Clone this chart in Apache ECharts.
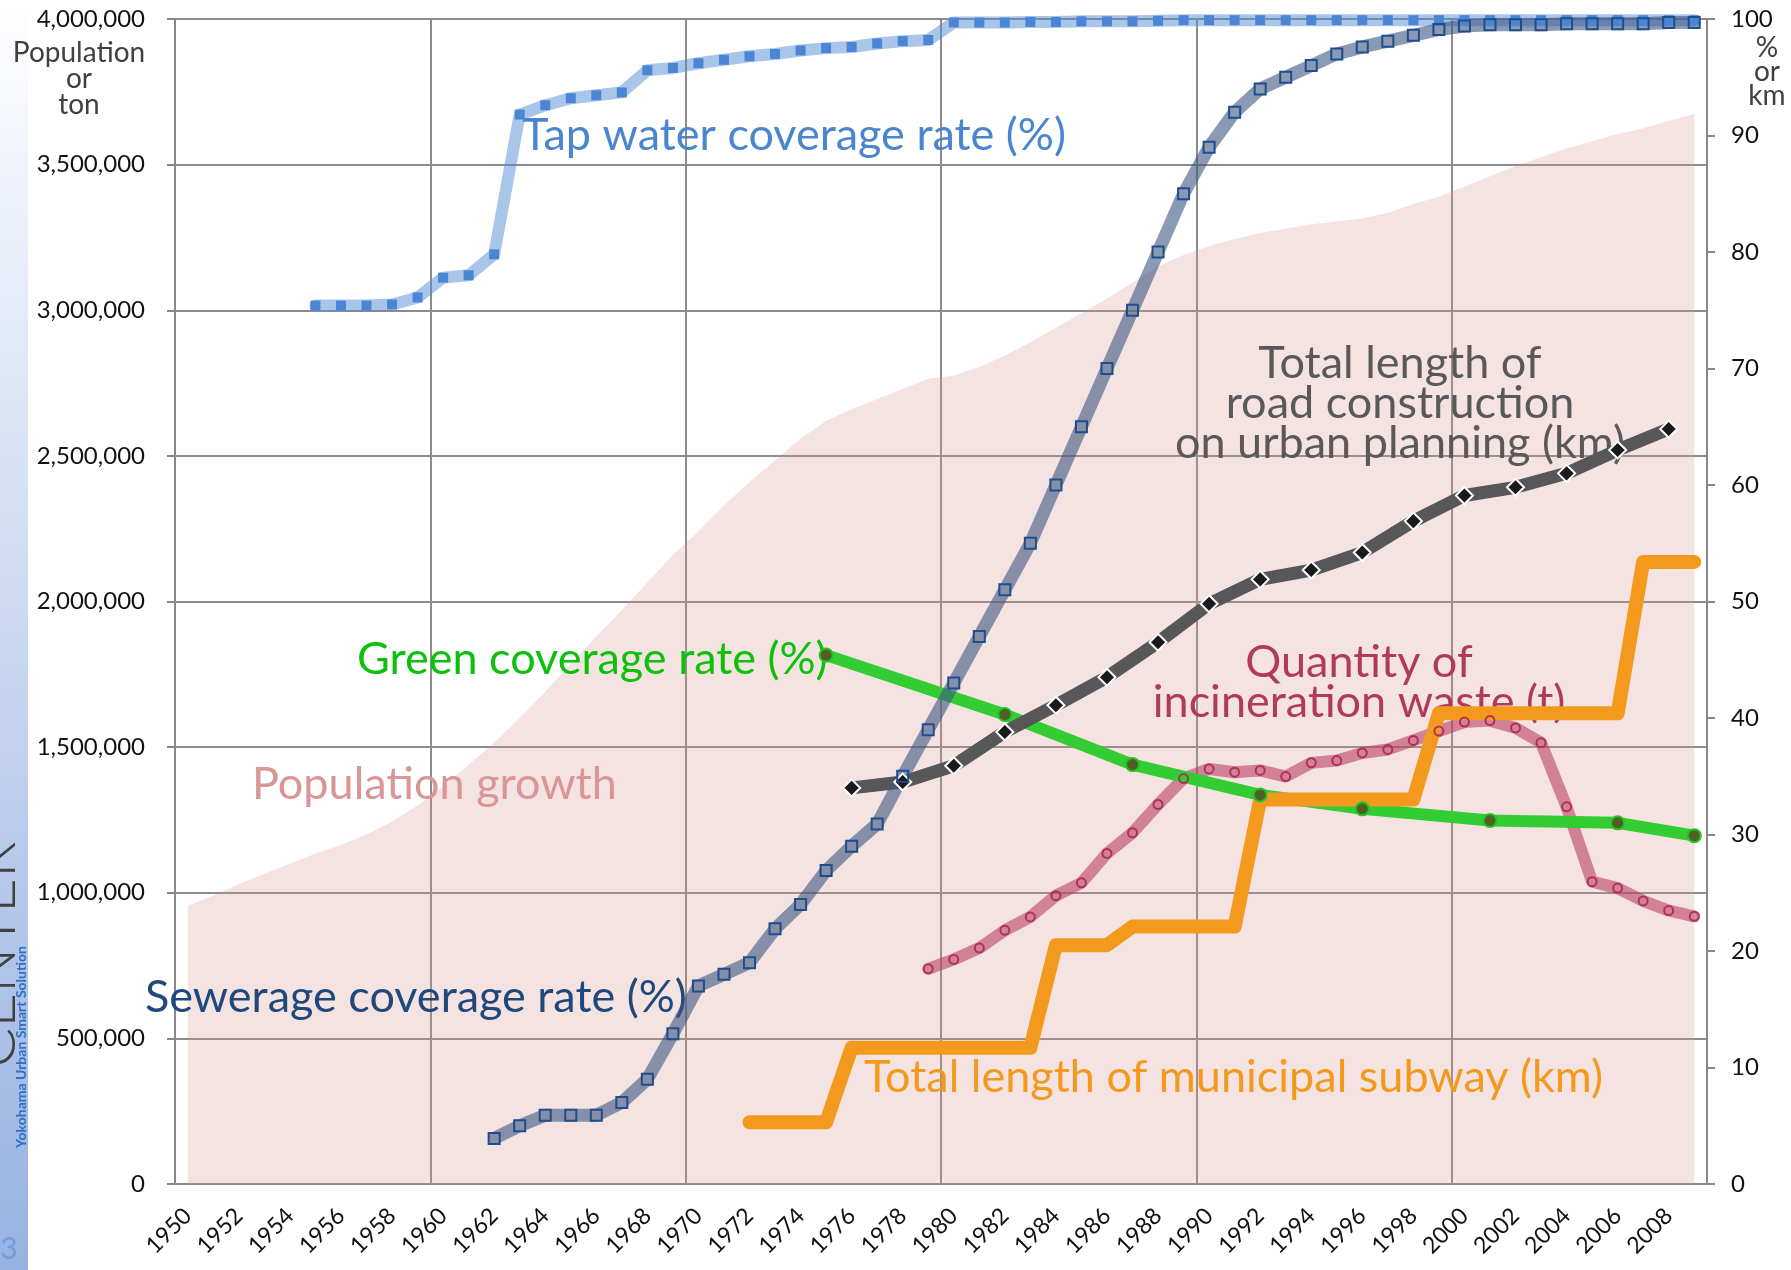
<!DOCTYPE html>
<html>
<head>
<meta charset="utf-8">
<title>Yokohama urban indicators 1950-2009</title>
<script src="https://cdn.jsdelivr.net/npm/echarts@6/dist/echarts.min.js"></script>
<style>
  html, body { margin: 0; padding: 0; background: #fff; }
  #chart { width: 1791px; height: 1270px; }
</style>
</head>
<body>
<div id="chart"></div>
<script>
// categories: one per year
const years = [];
for (let y = 1950; y <= 2009; y++) years.push(String(y));

// population (persons), 1950-2009, left axis
const population = [
  955000, 990000, 1030000, 1065000, 1100000, 1135000, 1165000, 1200000, 1245000, 1300000,
  1365000, 1440000, 1515000, 1600000, 1690000, 1785000, 1880000, 1970000, 2065000, 2160000,
  2240000, 2330000, 2410000, 2485000, 2560000, 2620000, 2660000, 2695000, 2730000, 2765000,
  2775000, 2805000, 2845000, 2890000, 2940000, 2990000, 3040000, 3095000, 3150000, 3190000,
  3220000, 3245000, 3265000, 3280000, 3295000, 3305000, 3315000, 3335000, 3365000, 3390000,
  3425000, 3460000, 3495000, 3525000, 3555000, 3580000, 3605000, 3625000, 3650000, 3675000
];

// tap water coverage rate (%), from 1955
const tapFrom = 1955;
const tapWater = [
  75.4, 75.4, 75.4, 75.5, 76.1,
  77.8, 78.0, 79.8, 91.8, 92.6, 93.2, 93.45, 93.7, 95.6, 95.8,
  96.2, 96.5, 96.8, 97.0, 97.3, 97.5, 97.6, 97.9, 98.1, 98.2,
  99.7, 99.7, 99.7, 99.75, 99.75, 99.8, 99.8, 99.8, 99.85, 99.9,
  99.9, 99.9, 99.9, 99.9, 99.9, 99.9, 99.9, 99.9, 99.9, 99.9,
  99.9, 99.9, 99.9, 99.9, 99.9, 99.9, 99.9, 99.9, 99.9, 99.9
];

// sewerage coverage rate (%), from 1962
const sewerFrom = 1962;
const sewerage = [
  3.9, 5.0, 5.9, 5.9, 5.9, 7.0, 9.0, 12.9,
  17.0, 18.0, 19.0, 21.9, 24.0, 26.9, 29.0, 30.9, 35.0, 39.0,
  43.0, 47.0, 51.0, 55.0, 60.0, 65.0, 70.0, 75.0, 80.0, 85.0,
  89.0, 92.0, 94.0, 95.0, 96.0, 97.0, 97.6, 98.1, 98.6, 99.1,
  99.4, 99.5, 99.5, 99.5, 99.6, 99.6, 99.6, 99.6, 99.7, 99.7
];

// total length of road construction on urban planning (km), every 2 years
const roadYears = [1976, 1978, 1980, 1982, 1984, 1986, 1988, 1990, 1992, 1994, 1996, 1998, 2000, 2002, 2004, 2006, 2008];
const roadKm = [34.0, 34.5, 35.9, 38.8, 41.1, 43.5, 46.5, 49.8, 51.9, 52.7, 54.2, 56.9, 59.1, 59.8, 61.0, 63.0, 64.8];

// green coverage rate (%)
const greenYears = [1975, 1982, 1987, 1992, 1996, 2001, 2006, 2009];
const greenRate = [45.4, 40.3, 36.0, 33.4, 32.2, 31.2, 31.0, 29.9];

// quantity of incineration waste (t), from 1979, left axis
const wasteFrom = 1979;
const wasteTons = [
  739000,
  771000, 810000, 871000, 917000, 990000, 1034000, 1135000, 1206000, 1303000, 1392000,
  1425000, 1414000, 1420000, 1399000, 1446000, 1454000, 1480000, 1492000, 1523000, 1555000,
  1586000, 1591000, 1566000, 1515000, 1295000, 1038000, 1016000, 972000, 939000, 919000
];

// total length of municipal subway (km), from 1972
const subwayFrom = 1972;
const subwayKm = [
  5.3, 5.3, 5.3, 5.3,
  11.7, 11.7, 11.7, 11.7, 11.7, 11.7, 11.7, 11.7,
  20.5, 20.5, 20.5,
  22.1, 22.1, 22.1, 22.1, 22.1,
  33.0, 33.0, 33.0, 33.0, 33.0, 33.0, 33.0,
  40.4, 40.4, 40.4, 40.4, 40.4, 40.4, 40.4, 40.4,
  53.4, 53.4, 53.4
];

// y axis ranges
const leftMax = 4000000, leftStep = 500000;
const rightMax = 100, rightStep = 10;

function fromYear(start, values) {
  return values.map((v, i) => [start + i - 1950, v]);
}
function atYears(ys, values) {
  return ys.map((y, i) => [y - 1950, values[i]]);
}

const FONT = 'Lato';
const chart = echarts.init(document.getElementById('chart'), null, { renderer: 'canvas' });

// text written on the plot
function note(text, x, y, color, align) {
  return {
    type: 'text', x: x, y: y, z: 2, silent: true,
    style: {
      text: text, fill: color, font: '45px ' + FONT,
      textAlign: align, textVerticalAlign: 'middle', lineHeight: 40
    }
  };
}

const lineBase = {
  type: 'line', z: 3, connectNulls: true, showAllSymbol: true, smooth: false
};

const option = {
  animation: false,
  backgroundColor: '#ffffff',
  textStyle: { fontFamily: FONT },
  grid: { left: 175, right: 84, top: 19, bottom: 86, outerBoundsMode: 'none' },
  xAxis: {
    type: 'category',
    data: years,
    boundaryGap: true,
    axisLine: { lineStyle: { color: '#888', width: 2 } },
    axisTick: { interval: 9, length: 9, lineStyle: { color: '#888', width: 2 } },
    axisLabel: { interval: 1, rotate: 45, margin: 28, fontSize: 23, color: '#111', fontFamily: FONT },
    splitLine: { show: true, interval: 9, lineStyle: { color: '#8c8c8c', width: 2 } }
  },
  yAxis: [
    {
      type: 'value', min: 0, max: leftMax, interval: leftStep,
      axisLine: { show: true, lineStyle: { color: '#888', width: 2 } },
      axisTick: { show: true, length: 8, lineStyle: { color: '#888', width: 2 } },
      axisLabel: {
        margin: 30, fontSize: 24, color: '#111', fontFamily: FONT,
        formatter: v => v.toLocaleString('en-US')
      },
      splitLine: { show: true, lineStyle: { color: '#8c8c8c', width: 2 } }
    },
    {
      type: 'value', min: 0, max: rightMax, interval: rightStep, position: 'right',
      axisLine: { show: true, lineStyle: { color: '#888', width: 2 } },
      axisTick: { show: true, length: 8, lineStyle: { color: '#888', width: 2 } },
      axisLabel: { margin: 24, fontSize: 24, color: '#111', fontFamily: FONT },
      splitLine: { show: false }
    }
  ],
  series: [
    {
      name: 'Population growth', type: 'line', z: 1, yAxisIndex: 0,
      data: population, showSymbol: false, symbol: 'none',
      lineStyle: { width: 0 },
      areaStyle: { color: 'rgba(217,149,148,0.38)' }
    },
    Object.assign({}, lineBase, {
      name: 'Tap water coverage rate (%)', yAxisIndex: 1,
      data: fromYear(tapFrom, tapWater),
      symbol: 'rect', symbolSize: 10,
      lineStyle: { width: 12, color: 'rgba(83,141,213,0.5)', cap: 'round', join: 'round' },
      itemStyle: { color: '#4a86d4' }
    }),
    Object.assign({}, lineBase, {
      name: 'Quantity of incineration waste (t)', yAxisIndex: 0,
      data: fromYear(wasteFrom, wasteTons),
      symbol: 'circle', symbolSize: 9,
      lineStyle: { width: 12, color: 'rgba(185,60,95,0.58)', cap: 'round', join: 'round' },
      itemStyle: { color: 'rgba(0,0,0,0)', borderColor: '#b0305a', borderWidth: 2 }
    }),
    Object.assign({}, lineBase, {
      name: 'Green coverage rate (%)', yAxisIndex: 1,
      data: atYears(greenYears, greenRate),
      symbol: 'circle', symbolSize: 13,
      lineStyle: { width: 12, color: '#33cc33', cap: 'round', join: 'round' },
      itemStyle: { color: '#4f5f26', borderColor: '#22c422', borderWidth: 2 }
    }),
    Object.assign({}, lineBase, {
      name: 'Total length of road construction on urban planning (km)', yAxisIndex: 1,
      data: atYears(roadYears, roadKm),
      symbol: 'diamond', symbolSize: 17,
      lineStyle: { width: 13, color: '#575757', cap: 'round', join: 'round' },
      itemStyle: { color: '#1a1a1a', borderColor: '#ffffff', borderWidth: 2 }
    }),
    Object.assign({}, lineBase, {
      name: 'Sewerage coverage rate (%)', yAxisIndex: 1,
      data: fromYear(sewerFrom, sewerage),
      symbol: 'rect', symbolSize: 11,
      lineStyle: { width: 13, color: 'rgba(60,85,130,0.6)', cap: 'round', join: 'round' },
      itemStyle: { color: 'rgba(0,0,0,0)', borderColor: '#1f4e8c', borderWidth: 2 }
    }),
    Object.assign({}, lineBase, {
      name: 'Total length of municipal subway (km)', yAxisIndex: 1,
      data: fromYear(subwayFrom, subwayKm),
      symbol: 'none',
      lineStyle: { width: 14, color: '#f39a1e', cap: 'round', join: 'round' }
    })
  ],
  graphic: [
    {
      type: 'rect', z: 0, silent: true,
      shape: { x: 0, y: 0, width: 28, height: 1270 },
      style: {
        fill: new echarts.graphic.LinearGradient(0, 0, 0, 1, [
          { offset: 0, color: '#ffffff' },
          { offset: 0.12, color: '#f1f4fb' },
          { offset: 1, color: '#97b2e2' }
        ])
      }
    },
    {
      type: 'text', z: 1, silent: true, x: 26, y: 955, rotation: Math.PI / 2,
      style: { text: 'CENTER', fill: '#404040', font: '300 60px ' + FONT, textAlign: 'center', textVerticalAlign: 'bottom' }
    },
    {
      type: 'text', z: 1, silent: true, x: 21, y: 1047, rotation: Math.PI / 2,
      style: { text: 'Yokohama Urban Smart Solution', fill: '#2f6fc7', font: 'bold 14px ' + FONT, textAlign: 'center', textVerticalAlign: 'middle' }
    },
    {
      type: 'text', z: 1, silent: true, x: 9, y: 1249,
      style: { text: '3', fill: '#6fa0dc', font: '30px ' + FONT, textAlign: 'center', textVerticalAlign: 'middle' }
    },
    {
      type: 'text', z: 2, silent: true, x: 79, y: 79,
      style: { text: 'Population\nor\nton', fill: '#404040', font: '28px ' + FONT, textAlign: 'center', textVerticalAlign: 'middle', lineHeight: 26 }
    },
    {
      type: 'text', z: 2, silent: true, x: 1767, y: 72,
      style: { text: '%\nor\nkm', fill: '#404040', font: '28px ' + FONT, textAlign: 'center', textVerticalAlign: 'middle', lineHeight: 24 }
    },
    note('Tap water coverage rate (%)', 522, 135, '#4a86d0', 'left'),
    note('Total length of\nroad construction\non urban planning (km)', 1400, 403, '#595959', 'center'),
    note('Green coverage rate (%)', 357, 659, '#0cc00c', 'left'),
    note('Quantity of\nincineration waste (t)', 1359, 682, '#b03a5e', 'center'),
    note('Population growth', 252, 784, '#d99694', 'left'),
    note('Sewerage coverage rate (%)', 145, 997, '#1f497d', 'left'),
    note('Total length of municipal subway (km)', 864, 1077, '#f39a1e', 'left')
  ]
};

chart.setOption(option);
</script>
</body>
</html>
